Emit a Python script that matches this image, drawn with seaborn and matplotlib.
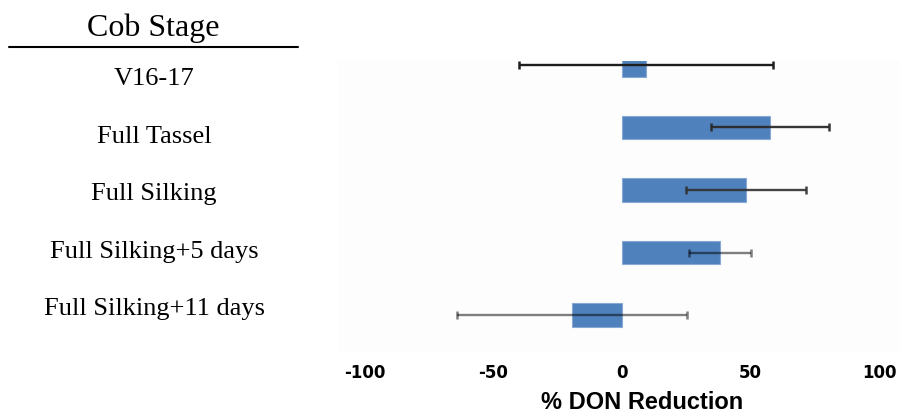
import matplotlib
matplotlib.use("Agg")
import matplotlib.pyplot as plt
from matplotlib.lines import Line2D
import seaborn as sns
import pandas as pd

# Cob stage at application and the resulting DON reduction (%)
stages = ["V16-17", "Full Tassel", "Full Silking",
          "Full Silking+5 days", "Full Silking+11 days"]
reduction = [9.3, 57.5, 48.2, 38.1, -19.4]
error = [49.4, 23.0, 23.2, 12.0, 44.8]
xticks = [-100, -50, 0, 50, 100]

df = pd.DataFrame({"stage": stages, "reduction": reduction, "error": error})

sns.set_theme(style="white")
plt.rcParams["font.family"] = ["Liberation Serif", "DejaVu Serif"]

W, H = 900, 415
fig = plt.figure(figsize=(W / 100, H / 100), dpi=100)
fig.patch.set_facecolor("white")

# plotting area in pixel terms
left_px, right_px, top_px, bottom_px = 338, 900, 61, 352
ax = fig.add_axes([left_px / W, 1 - bottom_px / H,
                   (right_px - left_px) / W, (bottom_px - top_px) / H])
ax.set_facecolor("#fdfdfd")

sns.barplot(data=df, x="reduction", y="stage", orient="h",
            color="#4f81bd", saturation=1, width=0.38, errorbar=None,
            edgecolor="#86a8d4", linewidth=0.8, ax=ax)

err_colors = ["#1e1e1e", "#2a2a2a", "#303030", "#000000", "#000000"]
err_alpha = [1.0, 0.95, 0.9, 0.5, 0.5]
for i, (val, e) in enumerate(zip(df["reduction"], df["error"])):
    ax.errorbar(val, i, xerr=e, fmt="none", ecolor=err_colors[i],
                alpha=err_alpha[i], elinewidth=1.7, capsize=2.8,
                capthick=1.8, clip_on=False, zorder=3)

# pixel -> data mapping: 0 at x=622, 2.575 px per unit; rows 62.5 px apart
ax.set_xlim((left_px - 622) / 2.575, (right_px - 622) / 2.575)
ax.set_ylim((bottom_px - 65) / 62.5, (top_px - 65) / 62.5)

for s in ax.spines.values():
    s.set_visible(False)
ax.grid(False)
ax.set_yticks([])
ax.set_ylabel("")
ax.set_xticks(xticks)
ax.set_xticklabels([str(t) for t in xticks], family="DejaVu Sans",
                   fontweight="bold", fontsize=12)
ax.tick_params(axis="x", which="major", length=0, pad=8.5, colors="black")
ax.set_xticks([-50], minor=True)
ax.tick_params(axis="x", which="minor", bottom=True, direction="in",
               length=3.6, width=1, color="#555555")

ax.set_xlabel("% DON Reduction", family="Liberation Sans",
              fontweight="bold", fontsize=17, color="black")
ax.xaxis.set_label_coords((642 - left_px) / (right_px - left_px),
                          (bottom_px - 391) / (bottom_px - top_px))
ax.xaxis.label.set_va("top")

# stage column on the left
fig.text(153 / W, 1 - 36 / H, "Cob Stage", ha="center", va="baseline",
         fontsize=23, color="black")
fig.add_artist(Line2D([9 / W, 298 / W], [1 - 46.7 / H, 1 - 46.7 / H],
                      transform=fig.transFigure, color="black", lw=1.5))
for i, name in enumerate(df["stage"]):
    fig.text(154 / W, 1 - (85 + 57.5 * i) / H, name, ha="center",
             va="baseline", fontsize=19, color="black")

fig.savefig("out.png", dpi=100)
